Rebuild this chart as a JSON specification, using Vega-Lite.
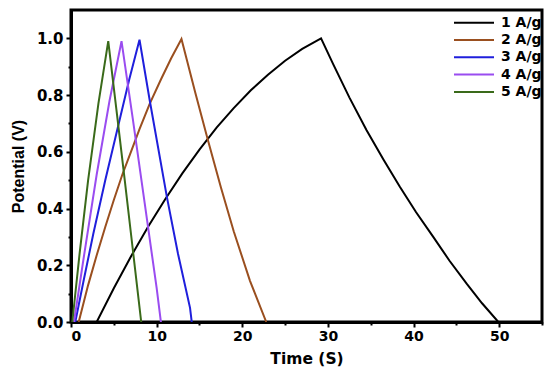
{
  "$schema": "https://vega.github.io/schema/vega-lite/v6.json",
  "width": 471,
  "height": 312,
  "autosize": {"type": "none"},
  "padding": {"left": 71, "top": 10, "right": 8, "bottom": 54},
  "background": "white",
  "config": {
    "view": {"stroke": "black", "strokeWidth": 3},
    "font": "DejaVu Sans",
    "axis": {
      "domainColor": "black", "domainWidth": 3, "tickColor": "black", "tickWidth": 2,
      "labelFont": "DejaVu Sans", "labelFontWeight": "bold", "labelColor": "black",
      "titleFontWeight": "bold", "titleColor": "black",
      "grid": false
    }
  },
  "data": {"values": [
    {"s": "1 A/g", "i": 0, "t": 3.0, "v": 0.0},
    {"s": "1 A/g", "i": 1, "t": 5.0, "v": 0.119},
    {"s": "1 A/g", "i": 2, "t": 7.0, "v": 0.231},
    {"s": "1 A/g", "i": 3, "t": 9.0, "v": 0.336},
    {"s": "1 A/g", "i": 4, "t": 11.0, "v": 0.433},
    {"s": "1 A/g", "i": 5, "t": 13.0, "v": 0.524},
    {"s": "1 A/g", "i": 6, "t": 15.0, "v": 0.608},
    {"s": "1 A/g", "i": 7, "t": 17.0, "v": 0.685},
    {"s": "1 A/g", "i": 8, "t": 19.0, "v": 0.754},
    {"s": "1 A/g", "i": 9, "t": 21.0, "v": 0.817},
    {"s": "1 A/g", "i": 10, "t": 23.0, "v": 0.872},
    {"s": "1 A/g", "i": 11, "t": 25.0, "v": 0.921},
    {"s": "1 A/g", "i": 12, "t": 27.0, "v": 0.963},
    {"s": "1 A/g", "i": 13, "t": 29.2, "v": 1.0},
    {"s": "1 A/g", "i": 14, "t": 30.6, "v": 0.91},
    {"s": "1 A/g", "i": 15, "t": 32.5, "v": 0.792},
    {"s": "1 A/g", "i": 16, "t": 34.5, "v": 0.677},
    {"s": "1 A/g", "i": 17, "t": 36.5, "v": 0.572},
    {"s": "1 A/g", "i": 18, "t": 38.4, "v": 0.477},
    {"s": "1 A/g", "i": 19, "t": 40.3, "v": 0.387},
    {"s": "1 A/g", "i": 20, "t": 42.3, "v": 0.30},
    {"s": "1 A/g", "i": 21, "t": 44.2, "v": 0.216},
    {"s": "1 A/g", "i": 22, "t": 46.2, "v": 0.135},
    {"s": "1 A/g", "i": 23, "t": 48.0, "v": 0.066},
    {"s": "1 A/g", "i": 24, "t": 49.9, "v": 0.0},

    {"s": "2 A/g", "i": 0, "t": 0.9, "v": 0.0},
    {"s": "2 A/g", "i": 1, "t": 2.0, "v": 0.13},
    {"s": "2 A/g", "i": 2, "t": 3.0, "v": 0.235},
    {"s": "2 A/g", "i": 3, "t": 4.0, "v": 0.335},
    {"s": "2 A/g", "i": 4, "t": 5.0, "v": 0.43},
    {"s": "2 A/g", "i": 5, "t": 6.0, "v": 0.52},
    {"s": "2 A/g", "i": 6, "t": 7.0, "v": 0.6},
    {"s": "2 A/g", "i": 7, "t": 8.0, "v": 0.68},
    {"s": "2 A/g", "i": 8, "t": 9.2, "v": 0.77},
    {"s": "2 A/g", "i": 9, "t": 10.5, "v": 0.855},
    {"s": "2 A/g", "i": 10, "t": 11.7, "v": 0.93},
    {"s": "2 A/g", "i": 11, "t": 12.9, "v": 0.998},
    {"s": "2 A/g", "i": 12, "t": 14.5, "v": 0.81},
    {"s": "2 A/g", "i": 13, "t": 16.0, "v": 0.64},
    {"s": "2 A/g", "i": 14, "t": 17.5, "v": 0.475},
    {"s": "2 A/g", "i": 15, "t": 19.0, "v": 0.32},
    {"s": "2 A/g", "i": 16, "t": 20.9, "v": 0.145},
    {"s": "2 A/g", "i": 17, "t": 22.8, "v": 0.0},

    {"s": "3 A/g", "i": 0, "t": 0.5, "v": 0.0},
    {"s": "3 A/g", "i": 1, "t": 1.5, "v": 0.15},
    {"s": "3 A/g", "i": 2, "t": 2.6, "v": 0.31},
    {"s": "3 A/g", "i": 3, "t": 4.0, "v": 0.5},
    {"s": "3 A/g", "i": 4, "t": 5.5, "v": 0.69},
    {"s": "3 A/g", "i": 5, "t": 6.8, "v": 0.855},
    {"s": "3 A/g", "i": 6, "t": 8.0, "v": 0.995},
    {"s": "3 A/g", "i": 7, "t": 9.2, "v": 0.78},
    {"s": "3 A/g", "i": 8, "t": 11.2, "v": 0.44},
    {"s": "3 A/g", "i": 9, "t": 12.5, "v": 0.24},
    {"s": "3 A/g", "i": 10, "t": 13.9, "v": 0.05},
    {"s": "3 A/g", "i": 11, "t": 14.1, "v": 0.0},

    {"s": "4 A/g", "i": 0, "t": 0.35, "v": 0.0},
    {"s": "4 A/g", "i": 1, "t": 1.5, "v": 0.23},
    {"s": "4 A/g", "i": 2, "t": 3.0, "v": 0.52},
    {"s": "4 A/g", "i": 3, "t": 4.5, "v": 0.78},
    {"s": "4 A/g", "i": 4, "t": 5.9, "v": 0.99},
    {"s": "4 A/g", "i": 5, "t": 7.2, "v": 0.72},
    {"s": "4 A/g", "i": 6, "t": 8.6, "v": 0.42},
    {"s": "4 A/g", "i": 7, "t": 10.0, "v": 0.12},
    {"s": "4 A/g", "i": 8, "t": 10.5, "v": 0.0},

    {"s": "5 A/g", "i": 0, "t": 0.15, "v": 0.0},
    {"s": "5 A/g", "i": 1, "t": 1.0, "v": 0.24},
    {"s": "5 A/g", "i": 2, "t": 2.0, "v": 0.5},
    {"s": "5 A/g", "i": 3, "t": 3.2, "v": 0.77},
    {"s": "5 A/g", "i": 4, "t": 4.35, "v": 0.99},
    {"s": "5 A/g", "i": 5, "t": 5.3, "v": 0.75},
    {"s": "5 A/g", "i": 6, "t": 6.2, "v": 0.52},
    {"s": "5 A/g", "i": 7, "t": 7.2, "v": 0.26},
    {"s": "5 A/g", "i": 8, "t": 8.2, "v": 0.0}
  ]},
  "layer": [
    {
      "mark": {"type": "line", "strokeWidth": 2, "clip": true},
      "encoding": {
        "x": {"field": "t", "type": "quantitative", "scale": {"domain": [0, 55], "nice": false},
              "axis": {"title": "Time (S)", "values": [0, 10, 20, 30, 40, 50], "tickSize": 5, "labelFontSize": 14, "labelPadding": 2,
                       "titleFont": "DejaVu Sans", "titleFontSize": 15.5, "titlePadding": 8, "orient": "bottom"}},
        "y": {"field": "v", "type": "quantitative", "scale": {"domain": [0, 1.1], "nice": false},
              "axis": {"title": "Potential (V)", "values": [0, 0.2, 0.4, 0.6, 0.8, 1.0], "format": ".1f", "tickSize": 5, "labelFontSize": 15, "labelPadding": 3,
                       "titleFont": "Liberation Sans", "titleFontSize": 16, "titlePadding": 10, "orient": "left"}},
        "color": {"field": "s", "type": "nominal",
                  "scale": {"domain": ["1 A/g", "2 A/g", "3 A/g", "4 A/g", "5 A/g"], "range": ["#000000", "#9a4f1f", "#1f1fdc", "#9a4cf0", "#3a6a1a"]},
                  "legend": {"title": null, "orient": "none", "legendX": 396, "legendY": 5.7, "symbolType": "M-4,0H4", "symbolSize": 100, "symbolStrokeWidth": 2,
                             "labelFont": "DejaVu Sans", "labelFontWeight": "bold", "labelFontSize": 14, "labelColor": "black", "rowPadding": 3.3, "labelOffset": 20, "padding": 0}},
        "order": {"field": "i", "type": "quantitative"}
      }
    },
    {
      "mark": {"type": "rule", "opacity": 0},
      "encoding": {
        "x": {"field": "t", "type": "quantitative",
              "axis": {"title": null, "values": [5, 15, 25, 35, 45, 55], "labels": false, "tickSize": 3, "domain": false, "orient": "bottom"}},
        "y": {"field": "v", "type": "quantitative",
              "axis": {"title": null, "values": [0.1, 0.3, 0.5, 0.7, 0.9], "labels": false, "tickSize": 3, "domain": false, "orient": "left"}}
      }
    }
  ],
  "resolve": {"axis": {"x": "independent", "y": "independent"}}
}
